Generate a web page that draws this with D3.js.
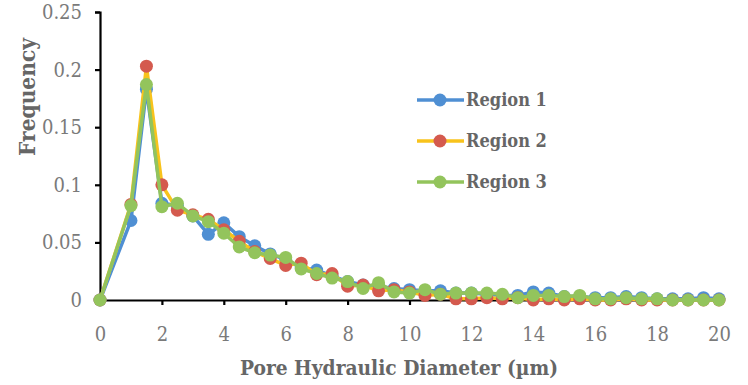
<!DOCTYPE html>
<html><head><meta charset="utf-8">
<script src="https://cdn.jsdelivr.net/npm/d3@7"></script>
<style>body{margin:0;background:#fff}svg{display:block}</style>
</head><body>
<svg id="c" width="748" height="385"></svg>
<script>
const xValues = [0,1,1.5,2,2.5,3,3.5,4,4.5,5,5.5,6,6.5,7,7.5,8,8.5,9,9.5,10,10.5,11,11.5,12,12.5,13,13.5,14,14.5,15,15.5,16,16.5,17,17.5,18,18.5,19,19.5,20];
const region1 = [0,0.069,0.183,0.084,0.082,0.073,0.057,0.067,0.055,0.047,0.040,0.035,0.028,0.026,0.021,0.016,0.013,0.012,0.010,0.009,0.008,0.008,0.006,0.006,0.005,0.004,0.004,0.007,0.006,0.003,0.003,0.002,0.002,0.003,0.002,0.001,0.001,0.001,0.002,0.001];
const region2 = [0,0.083,0.203,0.100,0.078,0.074,0.070,0.061,0.051,0.042,0.036,0.030,0.032,0.022,0.023,0.012,0.013,0.008,0.009,0.007,0.004,0.005,0.001,0.001,0.002,0.001,0.002,0.000,0.001,0.000,0.001,0.000,0.000,0.001,0.000,0.000,0.000,0.000,0.000,0.000];
const region3 = [0,0.082,0.187,0.081,0.084,0.073,0.068,0.058,0.046,0.041,0.039,0.037,0.027,0.023,0.019,0.016,0.010,0.015,0.007,0.006,0.009,0.005,0.006,0.006,0.006,0.005,0.002,0.004,0.004,0.003,0.004,0.001,0.001,0.002,0.001,0.001,0.000,0.000,0.000,0.000];
const seriesNames = ["Region 1","Region 2","Region 3"];
const xTicks = [0,2,4,6,8,10,12,14,16,18,20];
const yTicks = [0,0.05,0.1,0.15,0.2,0.25];
const xTitle = "Pore Hydraulic Diameter (µm)";
const yTitle = "Frequency";

const series = [
  {name: seriesNames[0], values: region1, line: "#4f8fd3", marker: "#4f8fd3"},
  {name: seriesNames[1], values: region2, line: "#f8c31c", marker: "#d45a4e"},
  {name: seriesNames[2], values: region3, line: "#93c45c", marker: "#93c45c"}
];

const svg = d3.select("#c");
const x = d3.scaleLinear().domain([0,20]).range([100,719]);
const y = d3.scaleLinear().domain([0,0.25]).range([300,12]);
const tickCol = "#7a7a7a";
const titleCol = "#666666";
const serif = "'DejaVu Serif Condensed','DejaVu Serif','Liberation Serif',serif";

function fit(sel, target) {
  const n = sel.node();
  const fs = parseFloat(sel.attr("font-size"));
  const w = n.getComputedTextLength();
  if (w > 0) sel.attr("font-size", (fs * target / w).toFixed(2));
}

const xAxis = svg.append("g").attr("transform","translate(0,300)")
  .call(d3.axisBottom(x).tickValues(xTicks).tickSize(5).tickPadding(22).tickFormat(d3.format("d")));
const yAxis = svg.append("g").attr("transform","translate(100,0)")
  .call(d3.axisLeft(y).tickValues(yTicks).tickSize(5).tickPadding(13).tickFormat(d => d === 0 ? "0" : String(d)));
[xAxis, yAxis].forEach(g => {
  g.select(".domain").attr("stroke","#000").attr("stroke-width",2.2);
  g.selectAll(".tick line").attr("stroke","#000").attr("stroke-width",2.2);
  g.selectAll(".tick text").attr("fill",tickCol).attr("font-family",serif).attr("font-size",20);
});
xAxis.selectAll(".tick text").attr("dy","0.71em");

const xt = svg.append("text").attr("x",399).attr("y",375).attr("text-anchor","middle")
  .attr("font-family",serif).attr("font-weight","bold").attr("font-size",20).attr("fill",titleCol).text(xTitle);
fit(xt, 318);
const yt = svg.append("text").attr("transform","translate(35,97) rotate(-90)").attr("text-anchor","middle")
  .attr("font-family",serif).attr("font-weight","bold").attr("font-size",20).attr("fill",titleCol).text(yTitle);
fit(yt, 118);

const line = d3.line().x((d,i) => x(xValues[i])).y(d => y(d));
series.forEach(s => {
  const g = svg.append("g");
  g.append("path").datum(s.values).attr("d",line).attr("fill","none")
    .attr("stroke",s.line).attr("stroke-width",3.5).attr("stroke-linejoin","round");
  g.selectAll("circle").data(s.values).join("circle")
    .attr("cx",(d,i) => x(xValues[i])).attr("cy",d => y(d)).attr("r",6.5).attr("fill",s.marker);
});

const legend = svg.append("g");
series.forEach((s,i) => {
  const ly = 100 + i*41;
  legend.append("line").attr("x1",417).attr("x2",464).attr("y1",ly).attr("y2",ly)
    .attr("stroke",s.line).attr("stroke-width",3.5);
  legend.append("circle").attr("cx",440).attr("cy",ly).attr("r",6.5).attr("fill",s.marker);
  const t = legend.append("text").attr("x",466).attr("y",ly+6).attr("font-family",serif).attr("font-weight","bold")
    .attr("font-size",18).attr("fill",titleCol).text(s.name);
  fit(t, 81);
});
</script>
</body></html>
